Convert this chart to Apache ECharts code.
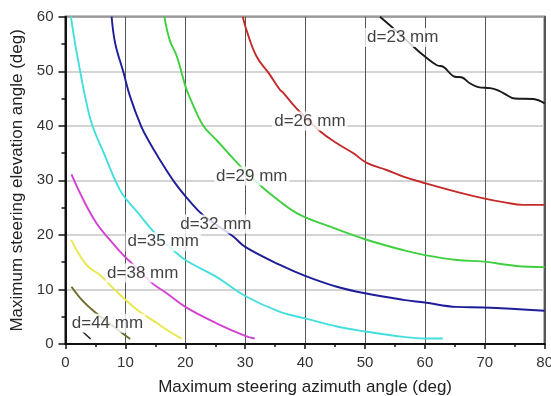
<!DOCTYPE html>
<html>
<head>
<meta charset="utf-8">
<script src="https://cdn.jsdelivr.net/npm/echarts@6/dist/echarts.min.js"></script>
<style>
html,body{margin:0;padding:0;background:#fff;}
#chart{width:551px;height:396px;}
</style>
</head>
<body>
<div id="chart"></div>
<script>
// Curve data [azimuth deg, elevation deg]
const d23 = [[52.5,60],[54.7,57.9],[58.1,54.5],[60.0,52.7],[62.0,51.1],[63.1,50.8],[65.0,49.0],[66.1,48.9],[67.5,47.8],[68.9,47.1],[70.9,46.9],[72.0,46.6],[73.1,46.0],[75.0,45.0],[78.1,44.9],[80,44.1]];
const d26 = [[29.6,60],[30.2,57.6],[31.9,52.7],[33.9,49.7],[35.8,46.6],[36.4,46.0],[38.3,43.5],[42.5,39.0],[45.3,36.8],[48.0,35.0],[50.3,33.2],[53.6,31.9],[56.4,30.7],[60.0,29.5],[65.3,27.9],[69.8,26.7],[73.1,26.0],[76.4,25.5],[80,25.5]];
const d29 = [[16.5,60],[17.4,55.7],[18.6,52.7],[19.95,47.5],[20.7,45.3],[23.0,40.0],[25.2,37.4],[29.1,32.7],[32.5,29.1],[34.1,27.6],[38.6,24.0],[44.2,21.5],[50.0,19.2],[56.4,17.2],[60,16.3],[65.3,15.4],[69.8,15.1],[75.3,14.3],[80,14.1]];
const d32 = [[7.7,60],[8.3,55.1],[9.65,49.9],[10.8,45.3],[12.6,40.0],[13.8,37.4],[15.8,33.7],[18.3,29.5],[20.8,26.1],[23.0,23.6],[28.0,19.7],[30.0,17.8],[35.8,14.5],[40,12.5],[45.3,10.5],[50,9.3],[56.4,8.1],[60,7.6],[65.3,6.8],[69.8,6.7],[80,6.1]];
const d35 = [[0.9,60],[1.6,55.1],[2.45,50],[3.4,44.7],[4.5,40],[6.4,35],[8.3,30],[9.6,27.3],[11.9,24.3],[14.7,20.6],[18.0,17.2],[20,15.4],[25.2,12.3],[30,8.8],[35.8,5.9],[40,4.7],[45.3,3.2],[50,2.3],[56.4,1.3],[60,1.0],[63,1.0]];
const d38 = [[1.0,31.1],[3.0,26.4],[5.2,22.1],[7.4,19.1],[9.9,16.0],[11.2,14.7],[14.4,11.2],[16.9,9.3],[20,6.8],[25.2,3.8],[30,1.5],[31.6,1.0]];
const d41 = [[0.95,19.1],[3.5,14.5],[5.8,12.6],[8.0,10.2],[10,8.1],[12.4,5.9],[14.9,4.1],[17.4,2.25],[19.4,1.0]];
const d44 = [[1.0,10.5],[3.0,7.75],[5.2,5.6],[9.0,2.4],[10.8,0.92]];
const leader44 = [[2.87,2.25],[4.2,0.92]];

const curveNames = ['d=23','d=26','d=29','d=32','d=35','d=38','d=41','d=44'];
const curveData = [d23,d26,d29,d32,d35,d38,d41,d44];
const curveColors = ['#1a1a1a','#c42a2a','#3fcf3f','#1e1e9a','#44dede','#d442d4','#e8e84c','#6c6c2c'];

// Curve labels
const labelText = ['d=23 mm','d=26 mm','d=29 mm','d=32 mm','d=35 mm','d=38 mm','d=44 mm'];
const labelX = [56.3,40.8,31.1,25.1,16.3,12.9,7.0];
const labelY = [56.2,40.9,30.8,22.0,18.75,13.0,3.8];

// Axes
const xTicks = [0,10,20,30,40,50,60,70,80];
const yTicks = [0,10,20,30,40,50,60];

const chart = echarts.init(document.getElementById('chart'), null, {renderer:'canvas'});
const font = 'Liberation Sans, Arial, sans-serif';

const series = curveData.map((d,i)=>({
  name: curveNames[i], type:'line', data:d, showSymbol:false, symbol:'none',
  smooth:0.4,
  lineStyle:{color:curveColors[i], width:1.9}, z:3, silent:true
}));
series.push({
  name:'leader', type:'line', data:leader44, showSymbol:false, symbol:'none',
  lineStyle:{color:'#222', width:1.6}, z:3, silent:true
});
series.push({
  name:'labels', type:'scatter', symbolSize:0, itemStyle:{color:'rgba(0,0,0,0)'}, z:10, silent:true,
  data: labelText.map((t,i)=>({name:t, value:[labelX[i],labelY[i]]})),
  label:{show:true, position:'inside', formatter:p=>p.name, color:'#111',
    fontFamily:font, fontSize:17, backgroundColor:'#fff', padding:[1,2]}
});

chart.setOption({
  backgroundColor:'#fff',
  animation:false,
  grid:{left:65.5, right:6.3, top:16.7, bottom:52, outerBoundsMode:'none', containLabel:false,
    show:true, borderColor:'#111', borderWidth:2, backgroundColor:'transparent'},
  xAxis:{
    type:'value', min:xTicks[0], max:xTicks[xTicks.length-1], interval:10,
    name:'Maximum steering azimuth angle (deg)', nameLocation:'middle', nameGap:35,
    nameTextStyle:{fontFamily:font, fontSize:17, color:'#222'},
    axisLine:{show:true, lineStyle:{color:'#111', width:2}},
    axisTick:{show:true, length:5, lineStyle:{color:'#111', width:1.5}},
    minorTick:{show:true, splitNumber:2, length:3, lineStyle:{color:'#111', width:1.5}},
    axisLabel:{fontFamily:font, fontSize:15, color:'#333', margin:11},
    splitLine:{show:true, lineStyle:{color:'#555', width:1}}
  },
  yAxis:{
    type:'value', min:yTicks[0], max:yTicks[yTicks.length-1], interval:10,
    name:'Maximum steering elevation angle (deg)', nameLocation:'middle', nameGap:40,
    nameTextStyle:{fontFamily:font, fontSize:17, color:'#222'},
    axisLine:{show:true, lineStyle:{color:'#111', width:2}},
    axisTick:{show:true, length:7, lineStyle:{color:'#111', width:1.5}},
    minorTick:{show:true, splitNumber:2, length:4, lineStyle:{color:'#111', width:1.5}},
    axisLabel:{fontFamily:font, fontSize:15, color:'#333', margin:12},
    splitLine:{show:true, lineStyle:{color:'#c6c6c6', width:1.5}}
  },
  series: series
});
</script>
</body>
</html>
